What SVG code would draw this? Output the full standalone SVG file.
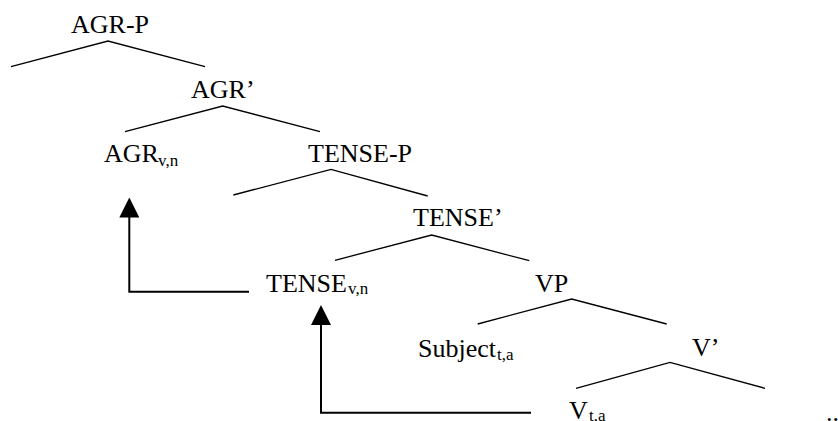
<svg xmlns="http://www.w3.org/2000/svg" width="838" height="421" viewBox="0 0 838 421">
<style>
.lbl { font-size: 26px; }
.sub { font-size: 17px; }
.br { fill: none; stroke: #000; stroke-width: 1.3; }
.mv { fill: none; stroke: #000; stroke-width: 2; }
.head { fill: #000; stroke: none; }
</style>
<rect width="838" height="421" fill="#fff"/>
<g id="connectors">
<polyline class="br" points="11,66.7 108,41 205,66.7"/>
<polyline class="br" points="125,131.7 222.7,106 320,131.7"/>
<polyline class="br" points="233.3,195 331,169.3 427.7,196"/>
<polyline class="br" points="335,260.3 431.7,235 529.3,260.7"/>
<polyline class="br" points="477.7,324 571.7,299 666.7,324"/>
<polyline class="br" points="576,388.3 670,362.3 765,388.3"/>
<polyline class="mv" points="249,291.7 129.3,291.7 129.3,216"/>
<polygon class="head" points="119.3,217.5 129.3,197.5 139.3,217.5"/>
<polyline class="mv" points="531,412.7 321,412.7 321,324"/>
<polygon class="head" points="311,325 321,305 331,325"/>
</g>
<g font-family="'Liberation Serif', 'Times New Roman', serif" fill="#000">
<g id="agr-p"><text class="lbl" x="71" y="33">AGR-P</text></g>
<g id="agr-bar"><text class="lbl" x="191" y="98">AGR’</text></g>
<g id="agr"><text class="lbl" x="104" y="162">AGR</text><text class="sub" x="158" y="165.5">v,n</text></g>
<g id="tense-p"><text class="lbl" x="308" y="162">TENSE-P</text></g>
<g id="tense-bar"><text class="lbl" x="413" y="226">TENSE’</text></g>
<g id="tense"><text class="lbl" x="266" y="292">TENSE</text><text class="sub" x="348" y="294">v,n</text></g>
<g id="vp"><text class="lbl" x="535" y="292">VP</text></g>
<g id="subject"><text class="lbl" x="418" y="357">Subject</text><text class="sub" x="497" y="359.5">t,a</text></g>
<g id="v-bar"><text class="lbl" x="692" y="356">V’</text></g>
<g id="v"><text class="lbl" x="569" y="419">V</text><text class="sub" x="589" y="421">t,a</text></g>
<g id="ellipsis"><text class="lbl" x="826" y="421">...</text></g>
</g>
</svg>
